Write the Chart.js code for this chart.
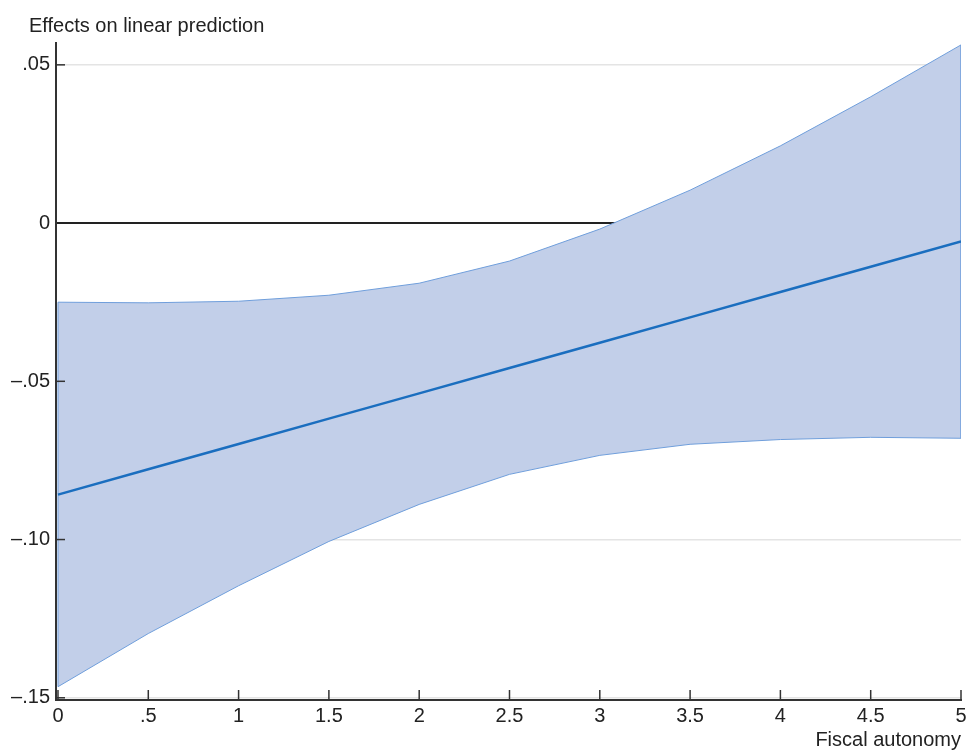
<!DOCTYPE html>
<html>
<head>
<meta charset="utf-8">
<script src="https://cdn.jsdelivr.net/npm/chart.js@4"></script>
<style>
  body { margin: 0; background: #fff; }
  #wrap { width: 966px; height: 752px; }
</style>
</head>
<body>
<div id="wrap"><canvas id="marginsChart"></canvas></div>
<script>
// x values (fiscal autonomy)
const xValues = [0, 0.5, 1, 1.5, 2, 2.5, 3, 3.5, 4, 4.5, 5];
// point estimate
const effect = [-0.0858, -0.0778, -0.0698, -0.0618, -0.0538, -0.0458, -0.0378, -0.0298, -0.0218, -0.0138, -0.0058];
// confidence interval
const upperCI = [-0.0250, -0.0252, -0.0247, -0.0228, -0.0190, -0.0120, -0.0019, 0.0104, 0.0244, 0.0399, 0.0563];
const lowerCI = [-0.1465, -0.1297, -0.1146, -0.1006, -0.0889, -0.0794, -0.0734, -0.0699, -0.0684, -0.0677, -0.0680];
const yTicks = [-0.15, -0.10, -0.05, 0, 0.05];
const yTickLabels = ["–.15", "–.10", "–.05", "0", ".05"];
const xTickLabels = ["0", ".5", "1", "1.5", "2", "2.5", "3", "3.5", "4", "4.5", "5"];
const yTitle = "Effects on linear prediction";

const FONT = "'Liberation Sans', Arial, Helvetica, sans-serif";
const bandFill = "#c2cfe9";
const bandEdge = "#6f9edb";
const lineColor = "#1a6ebf";

const toPts = (ys) => xValues.map((x, i) => ({ x: x, y: ys[i] }));
const lastI = xValues.length - 1;

// stata style inward tick marks + the horizontal y title at the top
const stataBits = {
  id: "stataBits",
  afterDatasetsDraw(chart) {
    const { ctx, chartArea, scales } = chart;
    ctx.save();
    ctx.strokeStyle = "#333";
    ctx.lineWidth = 1.5;
    yTicks.forEach((v) => {
      if (v === 0) return;
      const y = scales.y.getPixelForValue(v);
      ctx.beginPath();
      ctx.moveTo(chartArea.left, y);
      ctx.lineTo(chartArea.left + 9, y);
      ctx.stroke();
    });
    xValues.forEach((v) => {
      const x = scales.x.getPixelForValue(v);
      ctx.beginPath();
      ctx.moveTo(x, chartArea.bottom);
      ctx.lineTo(x, chartArea.bottom - 10);
      ctx.stroke();
    });
    ctx.fillStyle = "#222";
    ctx.font = "20px " + FONT;
    ctx.textAlign = "left";
    ctx.textBaseline = "middle";
    ctx.fillText(yTitle, chartArea.left - 27, chartArea.top - 17);
    ctx.restore();
  },
};

const ctx = document.getElementById("marginsChart").getContext("2d");
new Chart(ctx, {
  type: "line",
  data: {
    datasets: [
      {
        label: "lower",
        data: toPts(lowerCI),
        borderColor: bandEdge,
        borderWidth: 1,
        pointRadius: 0,
        fill: false,
        order: 3,
      },
      {
        label: "upper",
        data: toPts(upperCI),
        borderColor: bandEdge,
        borderWidth: 1,
        backgroundColor: bandFill,
        pointRadius: 0,
        fill: "-1",
        order: 3,
      },
      {
        label: "leftEdge",
        data: [{ x: xValues[0], y: lowerCI[0] }, { x: xValues[0], y: upperCI[0] }],
        borderColor: bandEdge,
        borderWidth: 1,
        pointRadius: 0,
        fill: false,
        order: 2,
      },
      {
        label: "rightEdge",
        data: [{ x: xValues[lastI], y: lowerCI[lastI] }, { x: xValues[lastI], y: upperCI[lastI] }],
        borderColor: bandEdge,
        borderWidth: 1.5,
        pointRadius: 0,
        fill: false,
        order: 2,
      },
      {
        label: "effect",
        data: toPts(effect),
        borderColor: lineColor,
        borderWidth: 2.5,
        pointRadius: 0,
        fill: false,
        order: 1,
      },
    ],
  },
  options: {
    responsive: true,
    maintainAspectRatio: false,
    animation: false,
    layout: { padding: { left: 0, right: 5, top: 43, bottom: 0 } },
    plugins: {
      legend: { display: false },
      tooltip: { enabled: false },
      title: { display: false },
    },
    scales: {
      x: {
        type: "linear",
        min: -0.011,
        max: 5,
        afterBuildTicks: (s) => { s.ticks = xValues.map((v) => ({ value: v })); },
        afterFit: (s) => {
          s.height = 52;
          s.paddingLeft = 0;
          s.paddingRight = 0;
        },
        ticks: {
          color: "#222",
          font: { family: FONT, size: 20 },
          padding: 4,
          maxRotation: 0,
          callback: (v, i) => xTickLabels[i],
        },
        grid: { display: false, drawTicks: false },
        border: { color: "#333", width: 2 },
        title: {
          display: true,
          text: "Fiscal autonomy",
          align: "end",
          color: "#222",
          font: { family: FONT, size: 20 },
          padding: { top: 0, bottom: 0 },
        },
      },
      y: {
        min: -0.1507,
        max: 0.0569,
        afterBuildTicks: (s) => { s.ticks = yTicks.map((v) => ({ value: v })); },
        afterFit: (s) => { s.width = 56; },
        ticks: {
          color: "#222",
          font: { family: FONT, size: 20 },
          padding: 6,
          callback: (v, i) => yTickLabels[i],
        },
        grid: {
          drawTicks: false,
          color: (c) => (c.tick && c.tick.value === 0 ? "#222" : "#e4e4e4"),
          lineWidth: (c) => (c.tick && c.tick.value === 0 ? 2 : 1.5),
        },
        border: { color: "#333", width: 2 },
      },
    },
  },
  plugins: [stataBits],
});
</script>
</body>
</html>
